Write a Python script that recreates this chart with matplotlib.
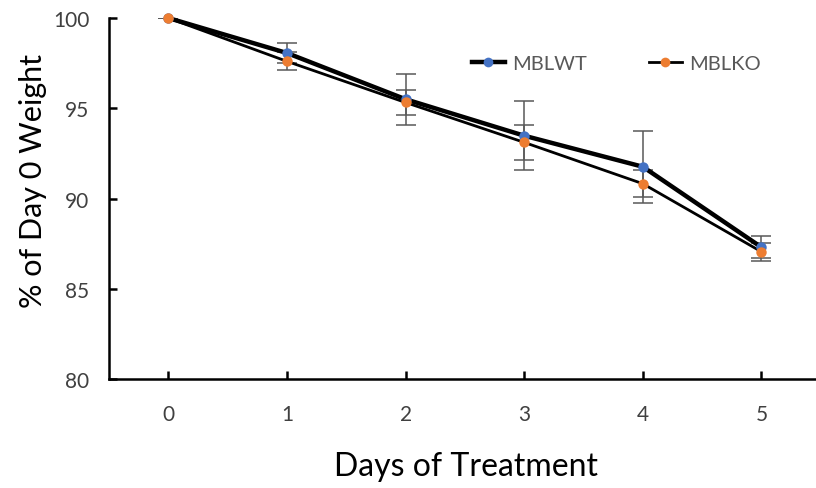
import matplotlib
matplotlib.use('Agg')
import matplotlib.pyplot as plt

# Body weight over treatment, as % of day 0
days = [0, 1, 2, 3, 4, 5]
wt_mean = [100.0, 98.06, 95.5, 93.48, 91.76, 87.3]
wt_err = [0.0, 0.57, 1.4, 1.9, 2.0, 0.6]
ko_mean = [100.0, 97.6, 95.32, 93.11, 90.82, 87.05]
ko_err = [0.0, 0.5, 0.7, 0.95, 0.75, 0.5]

plt.rcParams['font.family'] = ['Lato', 'DejaVu Sans']

fig = plt.figure(figsize=(8.16, 4.89), dpi=100, facecolor='white')
ax = fig.add_axes([0.1336, 0.2229, 0.8664, 0.7382])

err_kw = dict(ecolor='#595959', elinewidth=1.1, capsize=7, capthick=1.1, zorder=2)
ax.errorbar(days, wt_mean, yerr=wt_err, fmt='none', **err_kw)
ax.errorbar(days, ko_mean, yerr=ko_err, fmt='none', **err_kw)

# day 0 sits on the top edge, so don't clip the series
ax.plot(days, wt_mean, '-', color='black', lw=3.2, zorder=3, clip_on=False)
ax.plot(days, ko_mean, '-', color='black', lw=2.0, zorder=3, clip_on=False)
ax.plot(days, wt_mean, 'o', color='#4472C4', ms=7.5, mec='none', zorder=4, clip_on=False)
ax.plot(days, ko_mean, 'o', color='#ED7D31', ms=7.5, mec='none', zorder=4, clip_on=False)

# legend proxies: line + marker
h_wt, = ax.plot([], [], '-o', color='black', lw=3.2, mfc='#4472C4', mec='none', ms=7)
h_ko, = ax.plot([], [], '-o', color='black', lw=2.0, mfc='#ED7D31', mec='none', ms=7)
leg = ax.legend([h_wt, h_ko], ['MBLWT', 'MBLKO'], ncol=2, frameon=False,
                loc='center left', bbox_to_anchor=(0.513, 0.873), fontsize=14.5,
                borderpad=0, borderaxespad=0,
                handlelength=1.64, handletextpad=0.35, columnspacing=3.1)
for t in leg.get_texts():
    t.set_color('#595959')

ax.set_xlim(-0.5, 5.46)
ax.set_ylim(80, 100)
ax.set_xticks(days)
ax.set_yticks([80, 85, 90, 95, 100])

ax.spines['top'].set_visible(False)
ax.spines['right'].set_visible(False)
ax.spines['left'].set_linewidth(1.8)
ax.spines['bottom'].set_linewidth(1.8)
ax.spines['left'].set_bounds(80, 100)

ax.tick_params(axis='both', direction='in', length=6, width=1.8, labelsize=15,
               labelcolor='#404040')
ax.tick_params(axis='x', pad=18)
ax.tick_params(axis='y', pad=14)

ax.set_xlabel('Days of Treatment', fontsize=23)
ax.set_ylabel('% of Day 0 Weight', fontsize=22)
ax.xaxis.set_label_coords(0.505, -0.2)
ax.yaxis.set_label_coords(-0.088, 0.55)

fig.savefig('out.png', dpi=100, facecolor='white')
